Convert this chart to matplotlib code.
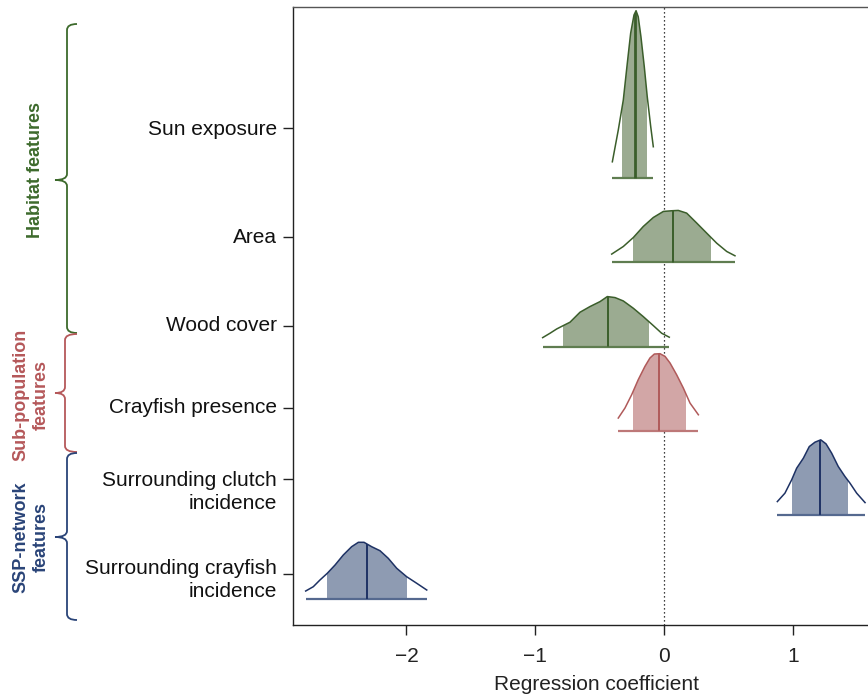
import numpy as np
import matplotlib
matplotlib.use('Agg')
import matplotlib.pyplot as plt
from matplotlib.patches import Rectangle, Polygon, PathPatch
from matplotlib.path import Path

plt.rcParams['font.family'] = ['Liberation Sans', 'DejaVu Sans']

# ---- data ----
names = ['Sun exposure', 'Area', 'Wood cover', 'Crayfish presence',
         'Surrounding clutch\nincidence', 'Surrounding crayfish\nincidence']
ridge_y = [6, 5, 4, 3, 2, 1]                      # baseline of each ridge
tick_y = [6.595, 5.298, 4.246, 3.271, 2.427, 1.297]
label_y = [6.577, 5.293, 4.246, 3.271, 2.272, 1.226]
group = ['hab', 'hab', 'hab', 'sub', 'ssp', 'ssp']

# posterior density outlines (x, height above baseline)
sun_x = [-0.401, -0.355, -0.316, -0.285, -0.259, -0.233, -0.217, -0.200, -0.179, -0.153, -0.130, -0.103, -0.083]
sun_h = [0.197, 0.574, 0.931, 1.367, 1.724, 1.942, 1.993, 1.921, 1.684, 1.327, 0.970, 0.614, 0.376]
area_x = [-0.406, -0.316, -0.238, -0.161, -0.083, -0.005, 0.060, 0.111, 0.176, 0.254, 0.331, 0.409, 0.487, 0.551]
area_h = [0.100, 0.190, 0.297, 0.428, 0.535, 0.607, 0.615, 0.619, 0.587, 0.469, 0.350, 0.230, 0.131, 0.080]
wood_x = [-0.942, -0.885, -0.833, -0.782, -0.730, -0.652, -0.575, -0.497, -0.440, -0.380, -0.316, -0.238, -0.161, -0.083, -0.018, 0.041]
wood_h = [0.107, 0.159, 0.210, 0.250, 0.290, 0.409, 0.476, 0.535, 0.595, 0.583, 0.543, 0.456, 0.357, 0.250, 0.159, 0.112]
cray_x = [-0.355, -0.303, -0.251, -0.200, -0.148, -0.109, -0.075, -0.031, 0.008, 0.047, 0.098, 0.150, 0.202, 0.267]
cray_h = [0.151, 0.270, 0.428, 0.607, 0.765, 0.865, 0.912, 0.916, 0.884, 0.805, 0.666, 0.508, 0.329, 0.190]
clutch_x = [0.880, 0.939, 0.991, 1.030, 1.082, 1.128, 1.172, 1.217, 1.258, 1.302, 1.353, 1.405, 1.444, 1.496, 1.561]
clutch_h = [0.158, 0.258, 0.416, 0.555, 0.674, 0.812, 0.864, 0.892, 0.844, 0.733, 0.575, 0.456, 0.377, 0.258, 0.146]
crinc_x = [-2.782, -2.723, -2.671, -2.614, -2.554, -2.490, -2.425, -2.373, -2.329, -2.270, -2.205, -2.141, -2.075, -1.998, -1.920, -1.842]
crinc_h = [0.095, 0.146, 0.226, 0.306, 0.404, 0.523, 0.622, 0.674, 0.674, 0.622, 0.574, 0.484, 0.365, 0.265, 0.187, 0.107]

curves_x = [sun_x, area_x, wood_x, cray_x, clutch_x, crinc_x]
curves_h = [sun_h, area_h, wood_h, cray_h, clutch_h, crinc_h]

means = [-0.225, 0.067, -0.437, -0.036, 1.211, -2.308]
ci_lo = [-0.326, -0.238, -0.782, -0.243, 0.996, -2.614]
ci_hi = [-0.132, 0.365, -0.114, 0.171, 1.431, -1.998]

xticks = [-2, -1, 0, 1]

# colours per group: (line, fill, baseline, text)
cols = {
    'hab': ('#3b5e2b', '#9bab91', '#5f7d50', '#3d6a2c'),
    'sub': ('#b05a5a', '#d2a6a6', '#bd7878', '#b5585a'),
    'ssp': ('#1e3264', '#8e9bb2', '#55698f', '#2a4478'),
}

W, H = 868, 696
fig = plt.figure(figsize=(W / 100, H / 100), dpi=100)
ax = fig.add_axes([293 / W, (H - 625) / H, (901 - 293) / W, (625 - 6.5) / H])
ax.set_xlim(-2.8804, 1.8401)
ax.set_ylim(0.691, 8.043)

ax.axvline(0, color='black', lw=0.9, ls=(0, (1, 2.2)), zorder=1)

for i in range(len(names)):
    lc, fc, bc, tc = cols[group[i]]
    xs = np.array(curves_x[i])
    hs = np.array(curves_h[i])
    y0 = ridge_y[i]
    verts = np.column_stack([np.r_[xs[0], xs, xs[-1]], np.r_[y0, y0 + hs, y0]])
    # filled central interval (curve area clipped to the interval)
    shade = Polygon(verts, closed=True, facecolor=fc, edgecolor='none', zorder=2)
    ax.add_patch(shade)
    clip = Rectangle((ci_lo[i], y0 - 0.1), ci_hi[i] - ci_lo[i], 3, transform=ax.transData)
    shade.set_clip_path(clip)
    # baseline
    ax.plot([xs[0], xs[-1]], [y0, y0], color=bc, lw=1.6, solid_capstyle='butt', zorder=3)
    # outline
    ax.plot(xs, y0 + hs, color=lc, lw=1.1, zorder=4)
    # mean line clipped by the density outline
    outline = Polygon(verts, closed=True, facecolor='none', edgecolor='none')
    ax.add_patch(outline)
    mline, = ax.plot([means[i], means[i]], [y0, y0 + 3], color=lc,
                     lw=2.0 if i == 0 else 1.4, zorder=5)
    mline.set_clip_path(outline)

# axes styling
ax.spines['right'].set_visible(False)
for s in ['left', 'bottom', 'top']:
    ax.spines[s].set_linewidth(1.0)
    ax.spines[s].set_color('#222222')
ax.spines['top'].set_color('#555555')

ax.set_xticks(xticks)
ax.set_xticklabels(['\u2212%d' % -t if t < 0 else '%d' % t for t in xticks])
ax.tick_params(axis='x', length=7, width=1, pad=9, labelsize=15, colors='#222222')
ax.set_yticks(tick_y)
ax.set_yticklabels([])
ax.tick_params(axis='y', length=7, width=1, colors='#222222')
ax.set_xlabel('Regression coefficient', fontsize=15, color='#222222', labelpad=6)

for i in range(len(names)):
    ax.annotate(names[i], xy=(0, label_y[i]), xycoords=('axes fraction', 'data'),
                xytext=(-11.5, 0), textcoords='offset points', ha='right', va='center',
                multialignment='right', linespacing=1.32, fontsize=15, color='#111111')

# group braces (figure pixel coordinates, y down)
def px(x, y):
    return (x / W, 1 - y / H)

def brace(xl, top, mid, bot, tip, hook, color):
    pts = [(hook, top), (xl, top), (xl, top + 6), (xl, mid - 6), (xl, mid), (tip, mid),
           (xl, mid), (xl, mid + 6), (xl, bot - 6), (xl, bot), (hook, bot)]
    codes = [Path.MOVETO, Path.CURVE3, Path.CURVE3, Path.LINETO, Path.CURVE3, Path.CURVE3,
             Path.CURVE3, Path.CURVE3, Path.LINETO, Path.CURVE3, Path.CURVE3]
    p = Path([px(*q) for q in pts], codes)
    fig.add_artist(PathPatch(p, facecolor='none', edgecolor=color, lw=1.3,
                             transform=fig.transFigure))

brace(67, 24, 180, 333, 55, 77, cols['hab'][3])
brace(65, 334, 393, 452, 55, 77, cols['sub'][3])
brace(67, 453, 537, 620, 55, 77, cols['ssp'][3])

fig.text(*px(36, 170), 'Habitat features', rotation=90, ha='center', va='center',
         fontsize=13, fontweight='bold', color=cols['hab'][3])
fig.text(*px(31, 395), 'Sub-population\nfeatures', rotation=90, ha='center', va='center',
         multialignment='center', linespacing=1.3, fontsize=13, fontweight='bold',
         color=cols['sub'][3])
fig.text(*px(31, 537), 'SSP-network\nfeatures', rotation=90, ha='center', va='center',
         multialignment='center', linespacing=1.3, fontsize=13, fontweight='bold',
         color=cols['ssp'][3])

fig.savefig('out.png', dpi=100)
